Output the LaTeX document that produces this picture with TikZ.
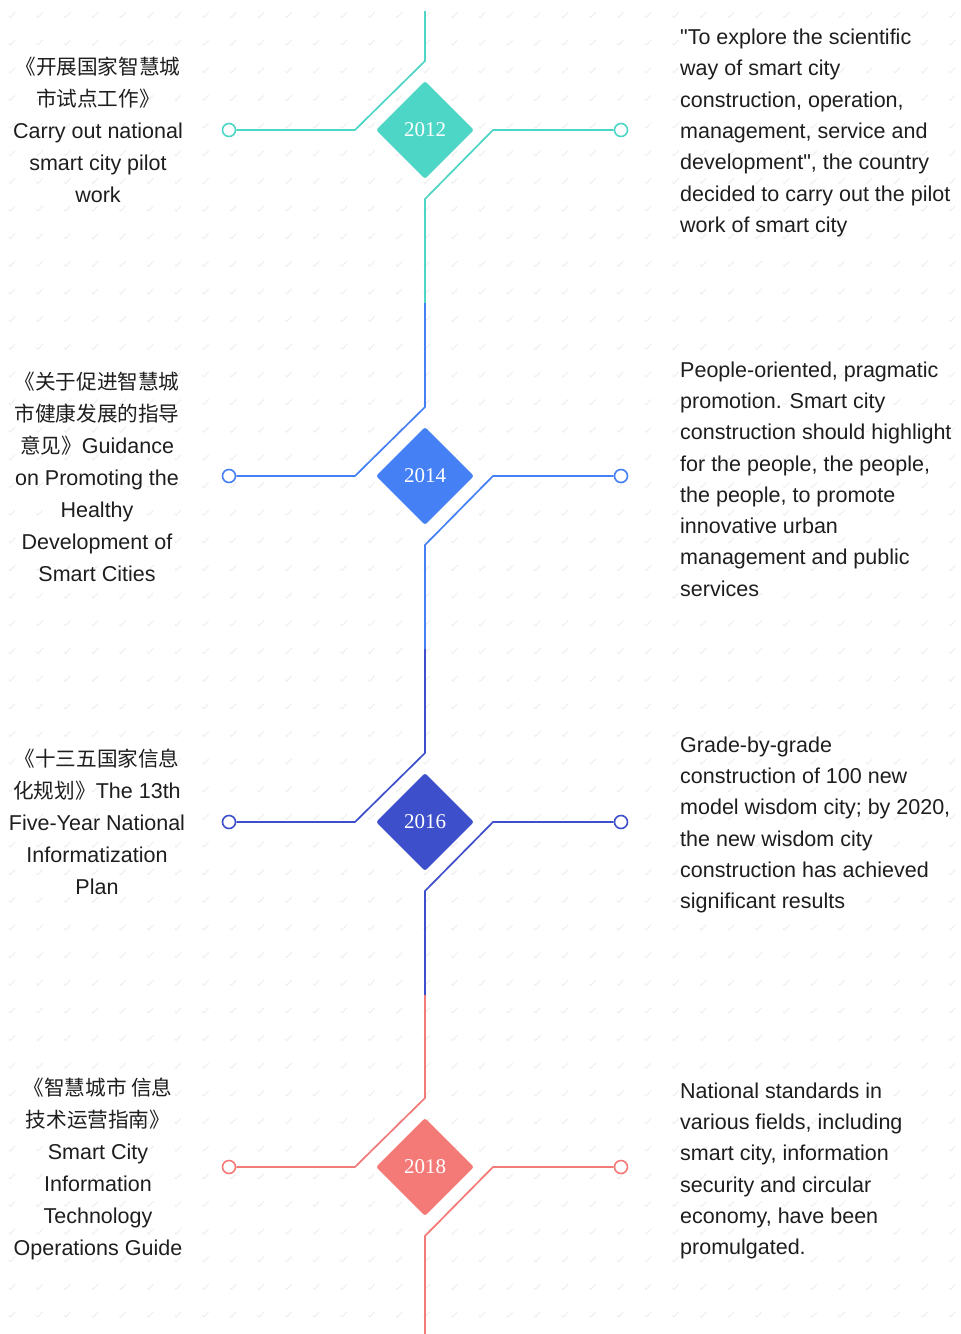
\documentclass[tikz,border=0pt]{standalone}
\usepackage{fontspec}
\setmainfont{Liberation Sans}[Ligatures=TeXOff]
\newfontfamily\cjk[Scale=0.96]{Noto Sans CJK SC}
\newfontfamily\yearfont{Liberation Serif}
\usetikzlibrary{shapes.geometric}
\definecolor{cTeal}{HTML}{4DD6C5}
\definecolor{cBlue}{HTML}{4680F5}
\definecolor{cNavy}{HTML}{3E4FCB}
\definecolor{cCoral}{HTML}{F47A78}
\definecolor{ink}{HTML}{1E1E1E}
\definecolor{markgray}{HTML}{EEEEEE}

% one milestone: name, y, colour, year, top of spine segment, bottom of spine segment
\newcommand\milestone[6]{%
  \node[yearbox=#3] (d#1) at (425,#2) {#4};
  \node[endring=#3] (l#1) at (229,#2) {};
  \node[endring=#3] (r#1) at (621,#2) {};
  \coordinate (st#1) at (425,#5);
  \coordinate (sb#1) at (425,#6);
  \coordinate (lb#1) at ([yshift=69pt]d#1.center);
  \coordinate (la#1) at ([xshift=-70pt]d#1.center);
  \coordinate (rb#1) at ([yshift=-69pt]d#1.center);
  \coordinate (ra#1) at ([xshift=68pt]d#1.center);
  \draw[wire=#3] (st#1) -- (lb#1) -- (la#1) -- (l#1);
  \draw[wire=#3] (r#1) -- (ra#1) -- (rb#1) -- (sb#1);
}

\begin{document}
\begin{tikzpicture}[x=1pt,y=-1pt,
  yearbox/.style={diamond, fill=#1, minimum width=98pt, minimum height=98pt,
    inner sep=0pt, rounded corners=2.5pt, text=white,
    font=\yearfont\fontsize{21}{21}\selectfont},
  endring/.style={circle, draw=#1, fill=white, line width=1.6pt,
    minimum size=13pt, inner sep=0pt},
  wire/.style={draw=#1, line width=1.7pt},
  lefttext/.style={align=center, text=ink, inner sep=0pt,
    font=\fontsize{21.5}{32}\selectfont},
  righttext/.style={align=left, anchor=west, text=ink, inner sep=0pt,
    font=\fontsize{21.5}{31.3}\selectfont},
  tick/.style={draw=markgray, line width=0.9pt, line cap=round, line join=round},
]
\useasboundingbox (0,0) rectangle (961,1334);
\fill[white] (0,0) rectangle (961,1334);

% faint tick pattern on the paper
\foreach \i in {0,...,34}{
  \foreach \j in {0,...,48}{
    \draw[tick, shift={(12+27.65*\i,15+27.65*\j)}] (-3,1) -- (-1.8,2.6) -- (3,-2.6);
  }
}

% timeline
\milestone{12}{130}{cTeal}{2012}{11}{303}
\milestone{14}{476}{cBlue}{2014}{303}{649}
\milestone{16}{822}{cNavy}{2016}{649}{995}
\milestone{18}{1167}{cCoral}{2018}{995}{1334}

% policy titles
\node[lefttext] (p12) at (98,130) {{\cjk 《开展国家智慧城}\\{\cjk 市试点工作》}\\Carry out national\\smart city pilot\\work};
\node[lefttext] (p14) at (97,477) {{\cjk 《关于促进智慧城}\\{\cjk 市健康发展的指导}\\{\cjk 意见》}Guidance\\on Promoting the\\Healthy\\Development of\\Smart Cities};
\node[lefttext] (p16) at (97,822) {{\cjk 《十三五国家信息}\\{\cjk 化规划》}The 13th\\Five-Year National\\Informatization\\Plan};
\node[lefttext] (p18) at (98,1169) {{\cjk 《智慧城市 信息}\\{\cjk 技术运营指南》}\\Smart City\\Information\\Technology\\Operations Guide};

% descriptions
\node[righttext] (q12) at (680,133) {"To explore the scientific\\way of smart city\\construction, operation,\\management, service and\\development", the country\\decided to carry out the pilot\\work of smart city};
\node[righttext] (q14) at (680,479) {People-oriented, pragmatic\\promotion. Smart city\\construction should highlight\\for the people, the people,\\the people, to promote\\innovative urban\\management and public\\services};
\node[righttext] (q16) at (680,825) {Grade-by-grade\\construction of 100 new\\model wisdom city; by 2020,\\the new wisdom city\\construction has achieved\\significant results};
\node[righttext] (q18) at (680,1171) {National standards in\\various fields, including\\smart city, information\\security and circular\\economy, have been\\promulgated.};
\end{tikzpicture}
\end{document}
